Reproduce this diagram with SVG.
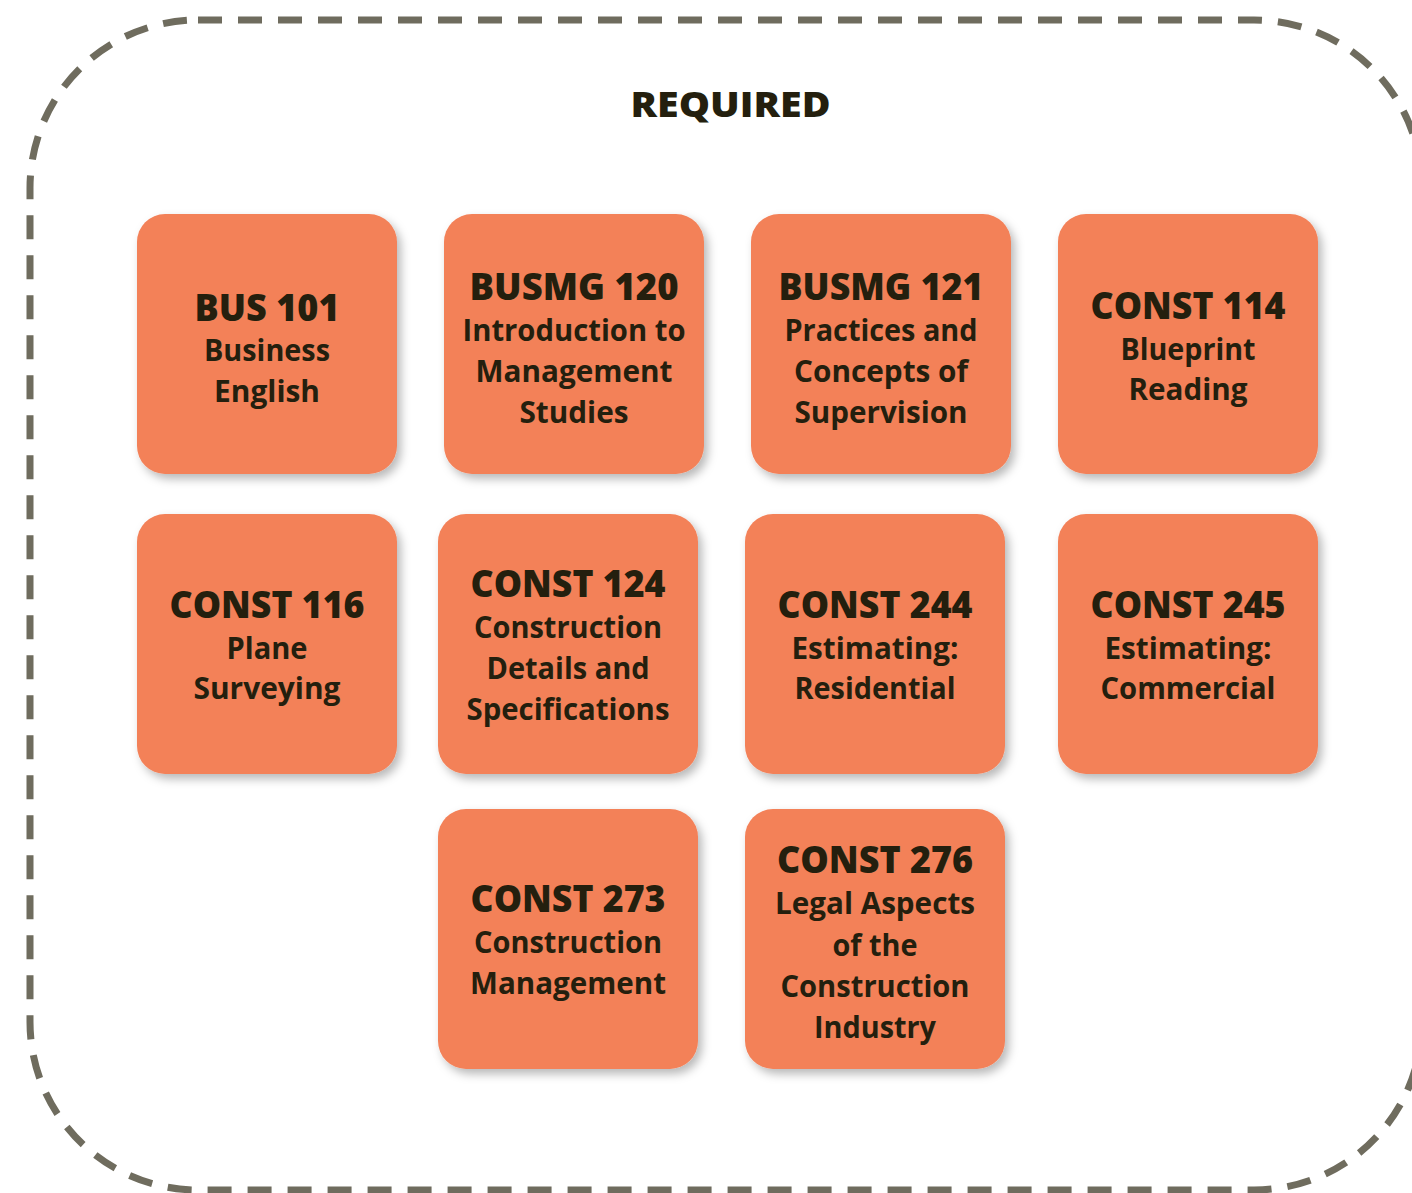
<svg xmlns="http://www.w3.org/2000/svg" width="1412" height="1193" viewBox="0 0 1412 1193">
<defs>
<style>
.box{fill:#F38159;filter:url(#sh);}
.t{font-family:"Open Sans","Noto Sans","Liberation Sans",sans-serif;fill:#241F0E;text-anchor:middle;}
.h{font-size:37px;font-weight:800;}
.s{font-size:30.5px;font-weight:700;}
.title{font-size:35px;font-weight:800;}
.frame{fill:none;stroke:#6F6C5E;stroke-width:7;stroke-dasharray:24 16;}
</style>
<filter id="sh" x="-20%" y="-20%" width="140%" height="140%">
<feDropShadow dx="4" dy="5" stdDeviation="5" flood-color="#000" flood-opacity="0.28"/>
</filter>
</defs>
<rect width="1412" height="1193" fill="#fff"/>
<rect id="frame" class="frame" x="30" y="20" width="1392" height="1170" rx="168" ry="168"/>
<text id="title" class="t title" x="730.5" y="117" textLength="200" lengthAdjust="spacingAndGlyphs">REQUIRED</text>

<g id="bus101">
<rect class="box" x="137" y="214" width="260" height="260" rx="28"/>
<text class="t h" x="267" y="321" textLength="145" lengthAdjust="spacingAndGlyphs">BUS 101</text>
<text class="t s" x="267" y="361" textLength="126" lengthAdjust="spacingAndGlyphs">Business</text>
<text class="t s" x="267" y="402" textLength="106" lengthAdjust="spacingAndGlyphs">English</text>
</g>
<g id="busmg120">
<rect class="box" x="444" y="214" width="260" height="260" rx="28"/>
<text class="t h" x="574" y="300" textLength="209" lengthAdjust="spacingAndGlyphs">BUSMG 120</text>
<text class="t s" x="574" y="341" textLength="223" lengthAdjust="spacingAndGlyphs">Introduction to</text>
<text class="t s" x="574" y="382" textLength="197" lengthAdjust="spacingAndGlyphs">Management</text>
<text class="t s" x="574" y="423" textLength="109" lengthAdjust="spacingAndGlyphs">Studies</text>
</g>
<g id="busmg121">
<rect class="box" x="751" y="214" width="260" height="260" rx="28"/>
<text class="t h" x="881" y="300" textLength="205" lengthAdjust="spacingAndGlyphs">BUSMG 121</text>
<text class="t s" x="881" y="341" textLength="193" lengthAdjust="spacingAndGlyphs">Practices and</text>
<text class="t s" x="881" y="382" textLength="174" lengthAdjust="spacingAndGlyphs">Concepts of</text>
<text class="t s" x="881" y="423" textLength="173" lengthAdjust="spacingAndGlyphs">Supervision</text>
</g>
<g id="const114">
<rect class="box" x="1058" y="214" width="260" height="260" rx="28"/>
<text class="t h" x="1188" y="319" textLength="195" lengthAdjust="spacingAndGlyphs">CONST 114</text>
<text class="t s" x="1188" y="360" textLength="135" lengthAdjust="spacingAndGlyphs">Blueprint</text>
<text class="t s" x="1188" y="400" textLength="119" lengthAdjust="spacingAndGlyphs">Reading</text>
</g>

<g id="const116">
<rect class="box" x="137" y="514" width="260" height="260" rx="28"/>
<text class="t h" x="267" y="618" textLength="195" lengthAdjust="spacingAndGlyphs">CONST 116</text>
<text class="t s" x="267" y="659" textLength="81" lengthAdjust="spacingAndGlyphs">Plane</text>
<text class="t s" x="267" y="699" textLength="147" lengthAdjust="spacingAndGlyphs">Surveying</text>
</g>
<g id="const124">
<rect class="box" x="438" y="514" width="260" height="260" rx="28"/>
<text class="t h" x="568" y="597" textLength="195" lengthAdjust="spacingAndGlyphs">CONST 124</text>
<text class="t s" x="568" y="638" textLength="188" lengthAdjust="spacingAndGlyphs">Construction</text>
<text class="t s" x="568" y="679" textLength="163" lengthAdjust="spacingAndGlyphs">Details and</text>
<text class="t s" x="568" y="720" textLength="203" lengthAdjust="spacingAndGlyphs">Specifications</text>
</g>
<g id="const244">
<rect class="box" x="745" y="514" width="260" height="260" rx="28"/>
<text class="t h" x="875" y="618" textLength="195" lengthAdjust="spacingAndGlyphs">CONST 244</text>
<text class="t s" x="875" y="659" textLength="167" lengthAdjust="spacingAndGlyphs">Estimating:</text>
<text class="t s" x="875" y="699" textLength="161" lengthAdjust="spacingAndGlyphs">Residential</text>
</g>
<g id="const245">
<rect class="box" x="1058" y="514" width="260" height="260" rx="28"/>
<text class="t h" x="1188" y="618" textLength="195" lengthAdjust="spacingAndGlyphs">CONST 245</text>
<text class="t s" x="1188" y="659" textLength="167" lengthAdjust="spacingAndGlyphs">Estimating:</text>
<text class="t s" x="1188" y="699" textLength="175" lengthAdjust="spacingAndGlyphs">Commercial</text>
</g>

<g id="const273">
<rect class="box" x="438" y="809" width="260" height="260" rx="28"/>
<text class="t h" x="568" y="912" textLength="195" lengthAdjust="spacingAndGlyphs">CONST 273</text>
<text class="t s" x="568" y="953" textLength="188" lengthAdjust="spacingAndGlyphs">Construction</text>
<text class="t s" x="568" y="994" textLength="196" lengthAdjust="spacingAndGlyphs">Management</text>
</g>
<g id="const276">
<rect class="box" x="745" y="809" width="260" height="260" rx="28"/>
<text class="t h" x="875" y="873" textLength="196" lengthAdjust="spacingAndGlyphs">CONST 276</text>
<text class="t s" x="875" y="914" textLength="200" lengthAdjust="spacingAndGlyphs">Legal Aspects</text>
<text class="t s" x="875" y="956" textLength="85" lengthAdjust="spacingAndGlyphs">of the</text>
<text class="t s" x="875" y="997" textLength="189" lengthAdjust="spacingAndGlyphs">Construction</text>
<text class="t s" x="875" y="1038" textLength="122" lengthAdjust="spacingAndGlyphs">Industry</text>
</g>
<g id="connectors"/>
</svg>
